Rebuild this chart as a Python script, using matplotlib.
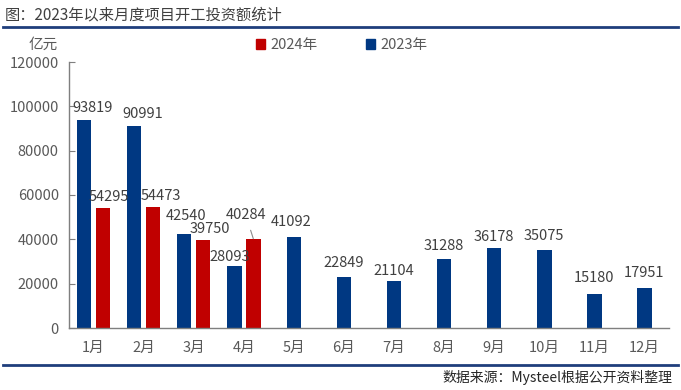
import matplotlib
matplotlib.use("Agg")
import matplotlib.pyplot as plt
from matplotlib.patches import Patch
from matplotlib.lines import Line2D
import numpy as np

plt.rcParams['font.family'] = ['Noto Sans CJK SC', 'DejaVu Sans']

months = ['1月', '2月', '3月', '4月', '5月', '6月', '7月', '8月', '9月', '10月', '11月', '12月']
vals_2023 = [93819, 90991, 42540, 28093, 41092, 22849, 21104, 31288, 36178, 35075, 15180, 17951]
vals_2024 = [54295, 54473, 39750, 40284]
yticks = [0, 20000, 40000, 60000, 80000, 100000, 120000]

BLUE = '#003882'
RED = '#C00000'
TXT = '#404040'

W, H = 681, 390
fig = plt.figure(figsize=(W / 100, H / 100), dpi=100)
ax = fig.add_axes([68.5 / W, 1 - 328 / H, (669.5 - 68.5) / W, (328 - 62) / H])

n24 = len(vals_2024)
x = np.arange(len(months))
bw = 0.29
off = 0.19
x23 = np.array([xi - off if i < n24 else xi for i, xi in enumerate(x)], dtype=float)
x24 = x[:n24] + off

ax.bar(x23, vals_2023, width=bw, color=BLUE, zorder=2)
ax.bar(x24, vals_2024, width=bw, color=RED, zorder=2)

# label layout: (dx pixels from bar centre, dy pixels above bar top to text centre)
lab23 = [(8.5, 12), (9, 12), (1.5, 18), (-4.5, 9), (-2.5, 15),
         (0, 14), (0, 10.5), (0, 13), (0, 11), (0, 14.5), (0, 16.5), (0, 15.5)]
lab24 = [(5.5, 11), (7.5, 11), (6.5, 10.5), (-7.5, 23.5)]

for xi, v, (dx, dy) in zip(x23, vals_2023, lab23):
    ax.annotate(f'{v}', xy=(xi, v), xytext=(dx * 0.72, dy * 0.72),
                textcoords='offset points', ha='center', va='center',
                fontsize=10.5, color=TXT, zorder=3)
for i, (xi, v, (dx, dy)) in enumerate(zip(x24, vals_2024, lab24)):
    kw = {}
    if i == 3:
        kw['arrowprops'] = dict(arrowstyle='-', color='#8C8C8C', lw=0.8,
                                shrinkA=4, shrinkB=0)
    ax.annotate(f'{v}', xy=(xi, v), xytext=(dx * 0.72, dy * 0.72),
                textcoords='offset points', ha='center', va='center',
                fontsize=10.5, color=TXT, zorder=3, **kw)

ax.set_xlim(-0.5, len(months) - 0.5)
ax.set_ylim(0, 120000)
ax.set_yticks(yticks)
ax.set_yticklabels([str(t) for t in yticks])
ax.set_xticks(x)
ax.set_xticklabels(months)
ax.tick_params(axis='y', direction='in', length=4, width=0.8, color='#7F7F7F',
               labelsize=10.5, labelcolor='#595959', pad=7)
ax.tick_params(axis='x', length=0, labelsize=10.5, labelcolor='#595959', pad=9)
for s in ['top', 'right']:
    ax.spines[s].set_visible(False)
for s in ['left', 'bottom']:
    ax.spines[s].set_color('#7F7F7F')
    ax.spines[s].set_linewidth(1.0)

# title and decorations
fig.text(5 / W, 1 - 15 / H, '图：2023年以来月度项目开工投资额统计', fontsize=11,
         color='#404040', ha='left', va='center')
fig.add_artist(Line2D([3 / W, 678 / W], [1 - 27 / H, 1 - 27 / H], color='#1F3E7C', lw=2))
fig.add_artist(Line2D([3 / W, 678 / W], [1 - 365 / H, 1 - 365 / H], color='#1F3E7C', lw=2))
fig.text(672 / W, 1 - 377 / H, '数据来源：Mysteel根据公开资料整理', fontsize=10,
         color='#262626', ha='right', va='center')
fig.text(43 / W, 1 - 45 / H, '亿元', fontsize=10.5, color='#595959', ha='center', va='center')

handles = [Patch(color=RED, label='2024年'), Patch(color=BLUE, label='2023年')]
fig.legend(handles=handles, loc='center left', bbox_to_anchor=(250 / W, 1 - 45 / H),
           ncol=2, frameon=False, fontsize=10.5, handlelength=0.65, handleheight=0.65,
           handletextpad=0.35, columnspacing=3.3, labelcolor='#595959', borderaxespad=0)

fig.savefig('out.png', dpi=100)
